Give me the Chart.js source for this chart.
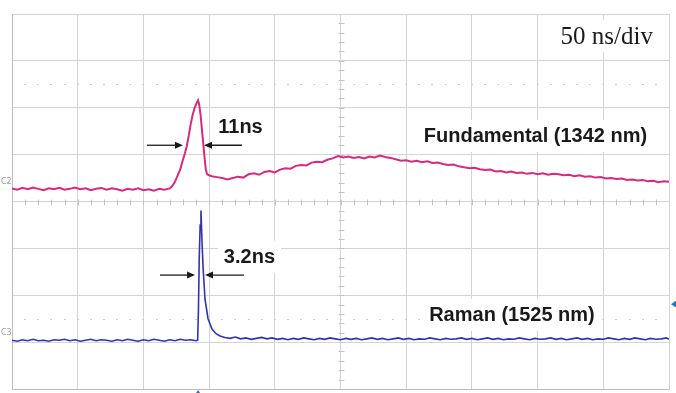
<!DOCTYPE html>
<html>
<head>
<meta charset="utf-8">
<script src="https://cdn.jsdelivr.net/npm/chart.js@4.4.1/dist/chart.umd.min.js"></script>
<style>
  html, body { margin: 0; padding: 0; background: #fff; }
  #scope { display: block; }
</style>
</head>
<body>
<canvas id="scope" width="676" height="393"></canvas>
<script>
// time in ns (50 ns/div), amplitude in screen divisions
const fundTime = [
    0, 4, 8, 12, 16, 20, 24, 28, 32, 36, 40, 44, 48, 52, 56, 60, 64, 68, 72, 76, 80,
    84, 88, 92, 96, 100, 104, 108, 112, 116, 120,
    122, 124, 126, 128, 130, 131.5, 133, 134.5, 136, 137.5, 139, 140.5, 141.6,
    142.5, 143.5, 144.5, 145.5, 146.5, 147.5, 148.5, 150,
    152, 156, 160, 164, 168, 172, 176, 180, 184, 188, 192, 196, 200, 204, 208, 212,
    216, 220, 224, 228, 232, 236, 240, 244, 248, 252, 256, 260, 264, 268, 272, 276,
    280, 284, 288, 292, 296, 300, 304, 308, 312, 316, 320, 324, 328, 332, 336, 340,
    344, 348, 352, 356, 360, 364, 368, 372, 376, 380, 384, 388, 392, 396, 400, 404,
    408, 412, 416, 420, 424, 428, 432, 436, 440, 444, 448, 452, 456, 460, 464, 468,
    472, 476, 480, 484, 488, 492, 496, 500
];
const fundLevel = [
    0.28, 0.25, 0.29, 0.26, 0.30, 0.27, 0.24, 0.28, 0.26, 0.29, 0.25, 0.27, 0.30, 0.26, 0.28, 0.24, 0.27, 0.29, 0.25, 0.28, 0.26,
    0.23, 0.27, 0.25, 0.28, 0.24, 0.26, 0.23, 0.27, 0.25, 0.28,
    0.33, 0.42, 0.55, 0.68, 0.88, 1.02, 1.18, 1.40, 1.65, 1.85, 2.00, 2.10, 2.16,
    2.06, 1.85, 1.55, 1.25, 0.95, 0.68, 0.58, 0.56,
    0.54, 0.52, 0.50, 0.47, 0.50, 0.53, 0.51, 0.58, 0.60, 0.57, 0.63, 0.65, 0.62, 0.68, 0.71, 0.70,
    0.76, 0.78, 0.77, 0.83, 0.85, 0.84, 0.89, 0.92, 0.97, 0.94, 0.96, 0.93, 0.95, 0.92, 0.96, 0.94,
    0.98, 0.95, 0.93, 0.90, 0.87, 0.88, 0.85, 0.87, 0.84, 0.86, 0.82, 0.83, 0.80, 0.78, 0.79, 0.75,
    0.73, 0.71, 0.72, 0.69, 0.67, 0.68, 0.64, 0.65, 0.62, 0.64, 0.61, 0.62, 0.59, 0.61, 0.58, 0.60,
    0.57, 0.59, 0.58, 0.56, 0.57, 0.54, 0.56, 0.53, 0.54, 0.51, 0.52, 0.49, 0.50, 0.48, 0.49, 0.46,
    0.47, 0.45, 0.46, 0.43, 0.44, 0.41, 0.43, 0.42
];
const ramanTime = [
    0, 4, 8, 12, 16, 20, 24, 28, 32, 36, 40, 44, 48, 52, 56, 60, 64, 68, 72, 76, 80,
    84, 88, 92, 96, 100, 104, 108, 112, 116, 120, 124, 128, 132, 136, 140,
    141.3, 141.9, 142.5, 143.2, 143.8, 144.6, 145.4, 146.9, 149.2, 152.2, 155.3, 158.3,
    162, 166, 170, 174, 178, 182, 186, 190, 194, 198, 202, 206, 210, 214, 218, 222,
    226, 230, 234, 238, 242, 246, 250, 254, 258, 262, 266, 270, 274, 278, 282, 286,
    290, 294, 298, 302, 306, 310, 314, 318, 322, 326, 330, 334, 338, 342, 346, 350,
    354, 358, 362, 366, 370, 374, 378, 382, 386, 390, 394, 398, 402, 406, 410, 414,
    418, 422, 426, 430, 434, 438, 442, 446, 450, 454, 458, 462, 466, 470, 474, 478,
    482, 486, 490, 494, 498, 500
];
const ramanLevel = [
    -2.96, -2.98, -2.95, -2.97, -2.94, -2.97, -2.96, -2.98, -2.95, -2.96, -2.94, -2.97, -2.95, -2.98, -2.96, -2.94, -2.97, -2.95, -2.96, -2.98, -2.95,
    -2.97, -2.94, -2.96, -2.98, -2.95, -2.97, -2.94, -2.96, -2.98, -2.95, -2.97, -2.94, -2.96, -2.95, -2.97,
    -2.96, -2.30, -1.20, -0.50, -0.19, -0.85, -1.40, -2.09, -2.50, -2.72, -2.82, -2.87,
    -2.90, -2.92, -2.89, -2.93, -2.91, -2.94, -2.92, -2.90, -2.93, -2.91, -2.94, -2.92, -2.95, -2.92, -2.94, -2.91,
    -2.93, -2.95, -2.92, -2.94, -2.91, -2.93, -2.95, -2.92, -2.94, -2.92, -2.95, -2.93, -2.91, -2.94, -2.92, -2.95,
    -2.93, -2.91, -2.94, -2.92, -2.95, -2.93, -2.94, -2.91, -2.93, -2.95, -2.92, -2.94, -2.93, -2.91, -2.94, -2.92,
    -2.95, -2.93, -2.91, -2.94, -2.92, -2.95, -2.93, -2.94, -2.91, -2.93, -2.95, -2.92, -2.94, -2.93, -2.91, -2.94,
    -2.92, -2.95, -2.93, -2.91, -2.94, -2.92, -2.95, -2.93, -2.94, -2.91, -2.93, -2.95, -2.92, -2.94, -2.91, -2.93,
    -2.95, -2.92, -2.94, -2.93, -2.91, -2.94
];

const pink = '#d42c7c';
const blue = '#3434aa';
const gridColor = '#d4d4d4';
const inkColor = '#1a1a1a';

function toPoints(xs, ys)
{
    let pts = [];
    for (let i = 0; i < xs.length; i++) {
        pts.push({x: xs[i], y: ys[i]});
    }
    return pts;
}

// annotation text placed in data units (ns, div)
const labels = [
    {text: "11ns", t: 173.9, v: 1.59, font: 'bold 20px "Liberation Sans", Arial, sans-serif', align: 'center'},
    {text: "3.2ns", t: 180.7, v: -1.18, font: 'bold 20px "Liberation Sans", Arial, sans-serif', align: 'center'},
    {text: "Fundamental (1342 nm)", t: 398.4, v: 1.40, font: 'bold 20px "Liberation Sans", Arial, sans-serif', align: 'center'},
    {text: "Raman (1525 nm)", t: 380.5, v: -2.42, font: 'bold 20px "Liberation Sans", Arial, sans-serif', align: 'center'},
    {text: "50 ns/div", t: 487.8, v: 3.53, font: '25px "Liberation Serif", "Times New Roman", serif', align: 'right'}
];
const arrows = [
    {from: 102.7, to: 130.1, v: 1.20},
    {from: 175.0, to: 146.1, v: 1.20},
    {from: 112.6, to: 139.3, v: -1.57},
    {from: 176.6, to: 146.9, v: -1.57}
];

function drawArrow(ctx, x1, x2, y)
{
    let dir = x2 > x1 ? 1 : -1;
    ctx.strokeStyle = inkColor;
    ctx.fillStyle = inkColor;
    ctx.lineWidth = 1.3;
    ctx.beginPath();
    ctx.moveTo(x1, y);
    ctx.lineTo(x2 - dir * 6, y);
    ctx.stroke();
    ctx.beginPath();
    ctx.moveTo(x2, y);
    ctx.lineTo(x2 - dir * 8, y - 3.5);
    ctx.lineTo(x2 - dir * 8, y + 3.5);
    ctx.closePath();
    ctx.fill();
}

const scopeDecor = {
    id: 'scopeDecor',
    beforeDatasetsDraw(chart) {
        const ctx = chart.ctx;
        const xs = chart.scales.x;
        const ys = chart.scales.y;
        ctx.save();
        // minor ticks on the centre cross
        ctx.strokeStyle = '#c4c4c4';
        ctx.lineWidth = 1;
        let cy = Math.round(ys.getPixelForValue(0)) + 0.5;
        let cx = Math.round(xs.getPixelForValue(250)) + 0.5;
        ctx.beginPath();
        for (let t = 10; t < 500; t += 10) {
            let px = Math.round(xs.getPixelForValue(t)) + 0.5;
            ctx.moveTo(px, cy - 3);
            ctx.lineTo(px, cy + 3);
        }
        for (let v = -3.8; v < 4; v += 0.2) {
            let py = Math.round(ys.getPixelForValue(v)) + 0.5;
            ctx.moveTo(cx - 3, py);
            ctx.lineTo(cx + 3, py);
        }
        ctx.stroke();
        // dotted marker levels
        ctx.fillStyle = '#cfcfcf';
        [2.5, -2.5].forEach(function(v) {
            let py = Math.round(ys.getPixelForValue(v));
            for (let t = 10; t < 500; t += 10) {
                let px = Math.round(xs.getPixelForValue(t));
                ctx.fillRect(px - 1, py, 2, 1);
            }
        });
        // label boxes and text
        labels.forEach(function(l) {
            ctx.font = l.font;
            let w = ctx.measureText(l.text).width;
            let px = xs.getPixelForValue(l.t);
            let py = ys.getPixelForValue(l.v);
            let left = l.align === 'center' ? px - w / 2 : px - w;
            ctx.fillStyle = '#ffffff';
            ctx.fillRect(left - 6, py - 16, w + 12, 32);
            ctx.fillStyle = inkColor;
            ctx.textAlign = l.align;
            ctx.textBaseline = 'middle';
            ctx.fillText(l.text, px, py + 1);
        });
        // channel tags on the left
        ctx.font = '8px "DejaVu Sans", sans-serif';
        ctx.fillStyle = '#9a9a9a';
        ctx.textAlign = 'left';
        ctx.textBaseline = 'middle';
        ctx.fillText("C2", chart.chartArea.left - 11, ys.getPixelForValue(0.41));
        ctx.fillText("C3", chart.chartArea.left - 11, ys.getPixelForValue(-2.8));
        ctx.restore();
    },
    afterDatasetsDraw(chart) {
        const ctx = chart.ctx;
        const xs = chart.scales.x;
        const ys = chart.scales.y;
        ctx.save();
        arrows.forEach(function(a) {
            drawArrow(ctx, xs.getPixelForValue(a.from), xs.getPixelForValue(a.to), ys.getPixelForValue(a.v));
        });
        // level marker on the right edge and trigger marker at the bottom
        let rx = chart.chartArea.right + 2;
        let ry = ys.getPixelForValue(-2.19);
        ctx.fillStyle = '#2f6fd0';
        ctx.beginPath();
        ctx.moveTo(rx, ry);
        ctx.lineTo(rx + 6, ry - 4);
        ctx.lineTo(rx + 6, ry + 4);
        ctx.closePath();
        ctx.fill();
        let bx = xs.getPixelForValue(141.6);
        let by = chart.chartArea.bottom + 1;
        ctx.fillStyle = '#5060a8';
        ctx.beginPath();
        ctx.moveTo(bx, by);
        ctx.lineTo(bx - 2, by + 3);
        ctx.lineTo(bx + 2, by + 3);
        ctx.closePath();
        ctx.fill();
        ctx.restore();
    }
};

let canvas = document.getElementById("scope").getContext("2d");
let scopeChart = new Chart(canvas, {
    type: 'line',
    data: {
        datasets: [
            {
                label: 'Fundamental (1342 nm)',
                data: toPoints(fundTime, fundLevel),
                borderColor: pink,
                borderWidth: 2,
                pointRadius: 0,
                tension: 0
            },
            {
                label: 'Raman (1525 nm)',
                data: toPoints(ramanTime, ramanLevel),
                borderColor: blue,
                borderWidth: 1.6,
                pointRadius: 0,
                tension: 0
            }
        ]
    },
    options: {
        responsive: false,
        animation: false,
        devicePixelRatio: 1,
        layout: { padding: { left: 12, right: 7, top: 14, bottom: 4 } },
        plugins: {
            legend: { display: false },
            tooltip: { enabled: false }
        },
        scales: {
            x: {
                type: 'linear',
                min: 0,
                max: 500,
                ticks: { display: false, stepSize: 50 },
                grid: { color: gridColor, lineWidth: 1, drawTicks: false },
                border: { color: '#bdbdbd' }
            },
            y: {
                type: 'linear',
                min: -4,
                max: 4,
                ticks: { display: false, stepSize: 1 },
                grid: { color: gridColor, lineWidth: 1, drawTicks: false },
                border: { color: '#bdbdbd' }
            }
        }
    },
    plugins: [scopeDecor]
});
</script>
</body>
</html>
